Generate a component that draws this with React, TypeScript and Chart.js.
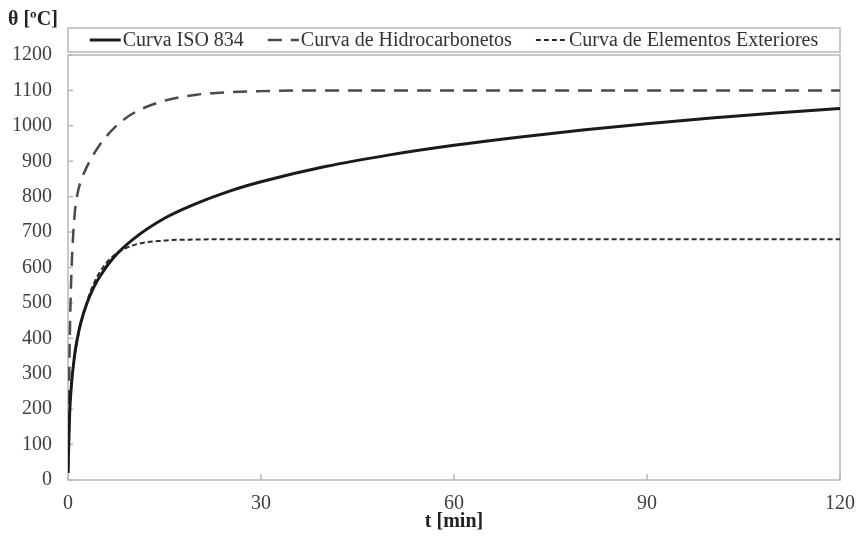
import { useEffect, useRef } from "react";
import { Chart, registerables } from "chart.js";
Chart.register(...registerables);

const timeMin = [0, 0.25, 0.5, 1, 1.5, 2, 3, 4, 5, 7, 10, 15, 20, 25, 30, 40, 50, 60, 70, 80, 90, 100, 110, 120];
const isoValues = [20, 185, 261, 349, 404, 445, 502, 544, 576, 626, 678, 739, 781, 815, 842, 885, 918, 945, 968, 988, 1006, 1022, 1036, 1049];
const hcValues = [20, 373, 568, 743, 810, 844, 887, 920, 948, 991, 1034, 1071, 1088, 1095, 1098, 1100, 1100, 1100, 1100, 1100, 1100, 1100, 1100, 1100];
const extValues = [20, 182, 263, 346, 399, 441, 506, 554, 589, 632, 662, 676, 679, 680, 680, 680, 680, 680, 680, 680, 680, 680, 680, 680];
const seriesLabels = ["Curva ISO 834", "Curva de Hidrocarbonetos", "Curva de Elementos Exteriores"];
const xTickValues = [0, 30, 60, 90, 120];
const yTitle = "θ [ºC]";
const xTitle = "t [min]";

const FONT = '"Liberation Serif", "Times New Roman", serif';

const toPoints = (vals: number[]) => vals.map((v, i) => ({ x: timeMin[i], y: v }));

const framePlugin = {
  id: "frameTicks",
  beforeDatasetsDraw(chart: any) {
    const { ctx, chartArea, scales } = chart;
    ctx.save();
    ctx.strokeStyle = "#b8b8b8";
    ctx.lineWidth = 1.5;
    ctx.strokeRect(chartArea.left, chartArea.top, chartArea.right - chartArea.left, chartArea.bottom - chartArea.top);
    ctx.beginPath();
    scales.y.ticks.forEach((t: any) => {
      const py = scales.y.getPixelForValue(t.value);
      ctx.moveTo(chartArea.left, py);
      ctx.lineTo(chartArea.left + 5, py);
    });
    xTickValues.forEach((v) => {
      const px = scales.x.getPixelForValue(v);
      ctx.moveTo(px, chartArea.bottom);
      ctx.lineTo(px, chartArea.bottom - 6);
    });
    ctx.stroke();
    ctx.restore();
  },
  afterDraw(chart: any) {
    const { ctx, chartArea } = chart;
    ctx.save();
    ctx.font = `bold 20px ${FONT}`;
    ctx.fillStyle = "#222";
    ctx.textBaseline = "middle";
    ctx.textAlign = "left";
    ctx.fillText(yTitle, 8, 20);
    const top = 28;
    const h = 24;
    ctx.strokeStyle = "#b8b8b8";
    ctx.lineWidth = 1.5;
    ctx.strokeRect(chartArea.left, top, chartArea.right - chartArea.left, h);
    ctx.font = `20px ${FONT}`;
    const sample = 31;
    const gapText = 2;
    const gapItem = 24;
    const items = chart.data.datasets.map((ds: any) => ({
      ds,
      w: sample + gapText + ctx.measureText(ds.label).width,
    }));
    const total = items.reduce((s: number, it: any) => s + it.w, 0) + gapItem * (items.length - 1);
    let x = (chartArea.left + chartArea.right) / 2 - total / 2;
    const y = top + h / 2;
    items.forEach(({ ds, w }: any) => {
      ctx.beginPath();
      ctx.setLineDash(ds.borderDash || []);
      ctx.lineDashOffset = 0;
      ctx.lineWidth = ds.borderWidth;
      ctx.strokeStyle = ds.borderColor;
      ctx.moveTo(x, y);
      ctx.lineTo(x + sample, y);
      ctx.stroke();
      ctx.setLineDash([]);
      ctx.fillStyle = "#333";
      ctx.textBaseline = "middle";
      ctx.textAlign = "left";
      ctx.fillText(ds.label, x + sample + gapText, y + 1);
      x += w + gapItem;
    });
    ctx.restore();
  },
};

export default function App() {
  const ref = useRef<HTMLCanvasElement>(null);
  useEffect(() => {
    document.body.style.margin = "0";
    const canvas = ref.current;
    if (!canvas) return;
    const chart = new Chart(canvas, {
      type: "line",
      data: {
        datasets: [
          {
            label: seriesLabels[0],
            data: toPoints(isoValues),
            borderColor: "#1a1a1a",
            borderWidth: 3,
            pointRadius: 0,
            cubicInterpolationMode: "monotone",
            fill: false,
          },
          {
            label: seriesLabels[1],
            data: toPoints(hcValues),
            borderColor: "#4a4a4a",
            borderWidth: 2.5,
            borderDash: [14, 9],
            pointRadius: 0,
            cubicInterpolationMode: "monotone",
            fill: false,
          },
          {
            label: seriesLabels[2],
            data: toPoints(extValues),
            borderColor: "#2a2a2a",
            borderWidth: 2,
            borderDash: [5, 3],
            pointRadius: 0,
            cubicInterpolationMode: "monotone",
            fill: false,
          },
        ],
      },
      options: {
        animation: false,
        responsive: false,
        devicePixelRatio: 1,
        layout: { padding: { top: 55, right: 19, left: 0, bottom: 0 } },
        plugins: { legend: { display: false }, tooltip: { enabled: false } },
        scales: {
          x: {
            type: "linear",
            min: 0,
            max: 120,
            grid: { display: false, drawTicks: false },
            border: { display: false },
            ticks: {
              stepSize: 30,
              padding: 12,
              color: "#404040",
              font: { family: FONT, size: 20 },
              maxRotation: 0,
              callback: (v: any) => String(v),
            },
            title: {
              display: true,
              text: xTitle,
              color: "#222",
              font: { family: FONT, size: 20, weight: "bold" },
              padding: { top: 0, bottom: 2 },
            },
            afterFit: (s: any) => {
              s.height = 56;
              s.paddingLeft = 0;
              s.paddingRight = 0;
            },
          },
          y: {
            min: 0,
            max: 1200,
            grid: { display: false, drawTicks: false },
            border: { display: false },
            ticks: {
              stepSize: 100,
              padding: 16,
              color: "#404040",
              font: { family: FONT, size: 20 },
              callback: (v: any) => String(v),
            },
            afterFit: (s: any) => {
              s.width = 68;
              s.paddingTop = 0;
              s.paddingBottom = 0;
            },
          },
        },
      } as any,
      plugins: [framePlugin],
    });
    return () => chart.destroy();
  }, []);
  return (
    <div style={{ width: 859, height: 536 }}>
      <canvas ref={ref} width={859} height={536} />
    </div>
  );
}
